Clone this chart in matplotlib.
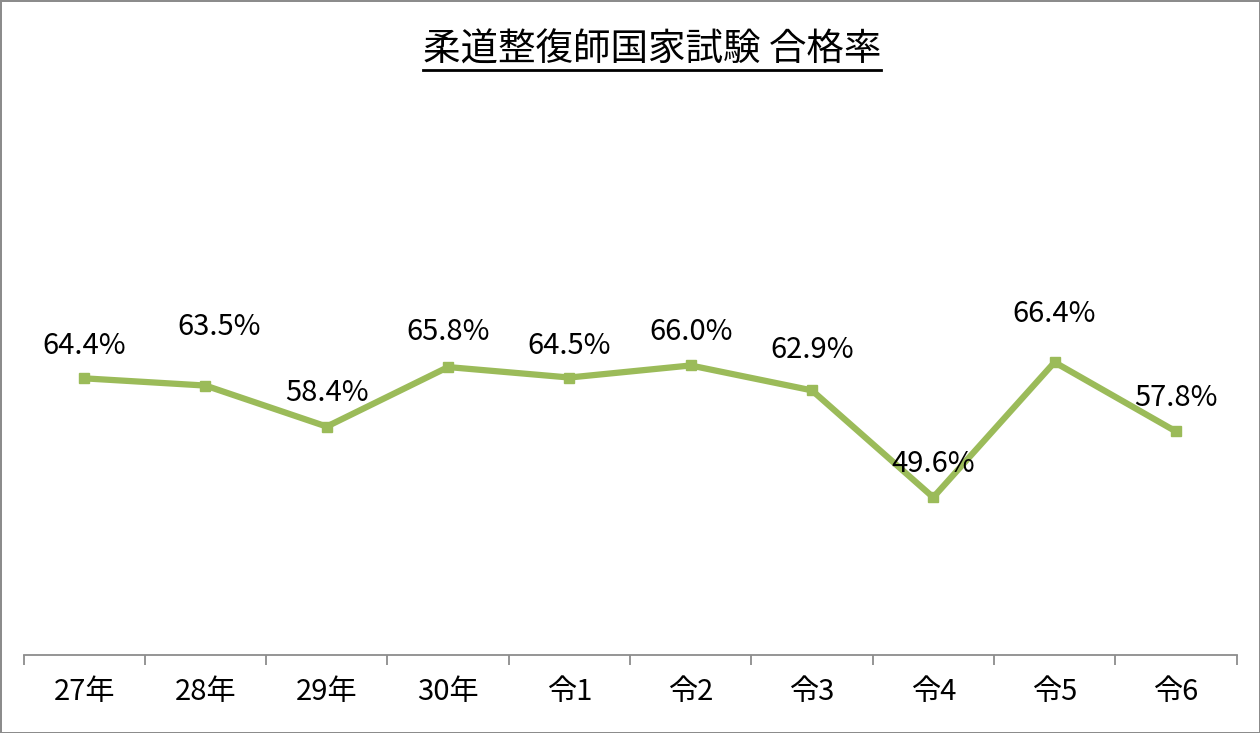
import matplotlib.pyplot as plt
from matplotlib.lines import Line2D
from matplotlib.ticker import FixedLocator

plt.rcParams['font.family'] = ['Noto Sans CJK JP', 'DejaVu Sans']

years = ['27年', '28年', '29年', '30年', '令1', '令2', '令3', '令4', '令5', '令6']
rates = [64.4, 63.5, 58.4, 65.8, 64.5, 66.0, 62.9, 49.6, 66.4, 57.8]
# label offsets in points (dx, dy)
label_dx = [0, 10, 0, 0, 0, 0, 0, 0, 0, 0]
label_dy = [23, 42, 24, 25, 23, 24, 29, 24, 35, 24]

fig = plt.figure(figsize=(12.6, 7.33), dpi=100)
fig.patch.set_edgecolor('#8c8c8c')
fig.patch.set_linewidth(2)
ax = fig.add_axes([23.5 / 1260, 78 / 733, 1213 / 1260, 563 / 733])

x = list(range(len(years)))
ax.plot(x, rates, color='#9BBB59', lw=4.5, marker='s', markersize=7.5,
        solid_joinstyle='miter')
for i, v in enumerate(rates):
    ax.annotate(f'{v:.1f}%', (i, v), xytext=(label_dx[i], label_dy[i]),
                textcoords='offset points', ha='center', va='center', fontsize=21)

ax.set_xlim(-0.5, len(years) - 0.5)
ax.set_ylim(30, 100)
ax.set_xticks(x)
ax.set_xticklabels(years, fontsize=21)
ax.xaxis.set_minor_locator(FixedLocator([i - 0.5 for i in range(len(years) + 1)]))
ax.tick_params(axis='x', which='major', length=0, pad=16)
ax.tick_params(axis='x', which='minor', length=7, width=1.3, color='#8c8c8c', direction='out')
ax.set_yticks([])
for s in ['top', 'left', 'right']:
    ax.spines[s].set_visible(False)
ax.spines['bottom'].set_color('#8c8c8c')
ax.spines['bottom'].set_linewidth(1.3)

title = fig.text(652 / 1260, 1 - 50 / 733, '柔道整復師国家試験 合格率', ha='center', va='center',
                 fontsize=27)
fig.canvas.draw()
bb = title.get_window_extent().transformed(fig.transFigure.inverted())
uy = 1 - 70 / 733
fig.add_artist(Line2D([bb.x0, bb.x1], [uy, uy], transform=fig.transFigure,
                      color='black', lw=2))

fig.savefig('out.png', dpi=100)
